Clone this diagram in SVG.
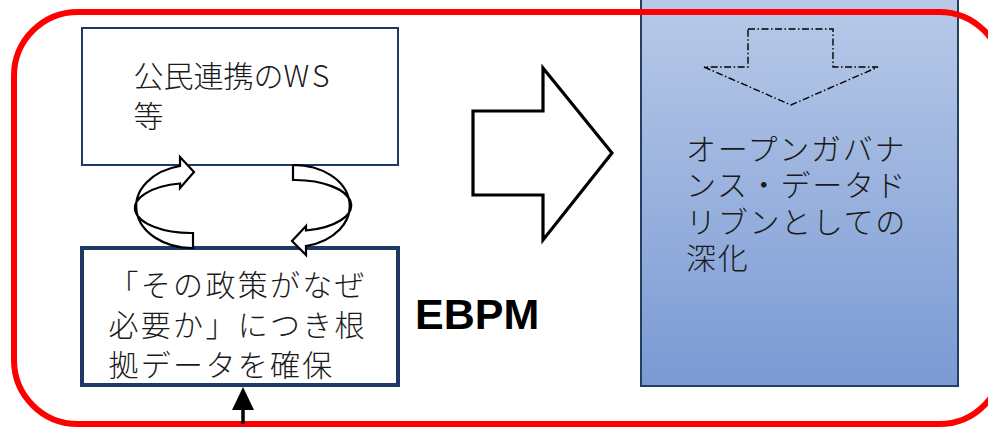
<svg xmlns="http://www.w3.org/2000/svg" width="988" height="427" viewBox="0 0 988 427">
<defs>
<linearGradient id="panelGrad" x1="0" y1="0" x2="0" y2="1">
<stop offset="0" stop-color="#B9CAE8"/>
<stop offset="1" stop-color="#7A9AD4"/>
</linearGradient>
</defs>
<style>
.jp{font-family:"Noto Sans CJK JP","Noto Sans",sans-serif;font-weight:300;font-size:30px;fill:#1a1a1a}
.box{fill:#ffffff;stroke:#1F3864}
.ring{fill:#ffffff;stroke:#000000;stroke-width:2.2;stroke-linejoin:miter}
</style>
<rect width="988" height="427" fill="#ffffff"/>
<g id="panel">
<rect x="641" y="-5" width="317" height="391" fill="url(#panelGrad)" stroke="#243F60" stroke-width="2"/>
<text class="jp" style="letter-spacing:1.7px"><tspan x="686" y="159.5">オープンガバナ</tspan><tspan x="686" y="196">ンス・データド</tspan><tspan x="686" y="232.5">リブンとしての</tspan><tspan x="686" y="269">深化</tspan></text>
</g>
<g id="frame">
<rect x="14" y="12" width="989" height="412" rx="64" ry="64" fill="none" stroke="#FF0000" stroke-width="6"/>
</g>
<g id="ws-box">
<rect class="box" x="82" y="28" width="316" height="137" stroke-width="2"/>
<text class="jp"><tspan x="133.5" y="86.5">公民連携の<tspan style="letter-spacing:3px">WS</tspan></tspan><tspan x="133.5" y="126.5">等</tspan></text>
</g>
<g id="evidence-box">
<rect class="box" x="82" y="248" width="316" height="137" stroke-width="4"/>
<text class="jp" style="letter-spacing:2.3px"><tspan x="108.5" y="295.5">「その政策がなぜ</tspan><tspan x="108.5" y="335.5">必要か」につき根</tspan><tspan x="108.5" y="375.5">拠データを確保</tspan></text>
</g>
<g id="ebpm">
<text x="415" y="329" font-family="'Liberation Sans',Arial,sans-serif" font-weight="bold" font-size="43" fill="#000000">EBPM</text>
</g>
<g id="connectors">
<polygon points="473,111 543,111 543,68 612,153 543,240 543,195 473,195" fill="#ffffff" stroke="#000000" stroke-width="3.2" stroke-linejoin="miter"/>
<polygon points="748,29 833,29 833,67 878,67 791,105 704,67 748,67" fill="none" stroke="#000000" stroke-width="1.4" stroke-dasharray="7 2.5 1.5 2.5"/>
<path class="ring" d="M193,248 A56,41.5 0 0 1 180,166 L180,157 L194,172 L180,188 L180,183.5 A56,25 0 0 0 193,233 Z"/>
<path class="ring" d="M293,165 A56,41 0 0 1 306,246 L306,255 L292,241 L306,226 L306,230.5 A56,25.5 0 0 0 293,180 Z"/>
<line x1="243" y1="424" x2="243" y2="408" stroke="#000000" stroke-width="3.5"/>
<polygon points="243,387 254,410 232,410" fill="#000000"/>
</g>
</svg>
